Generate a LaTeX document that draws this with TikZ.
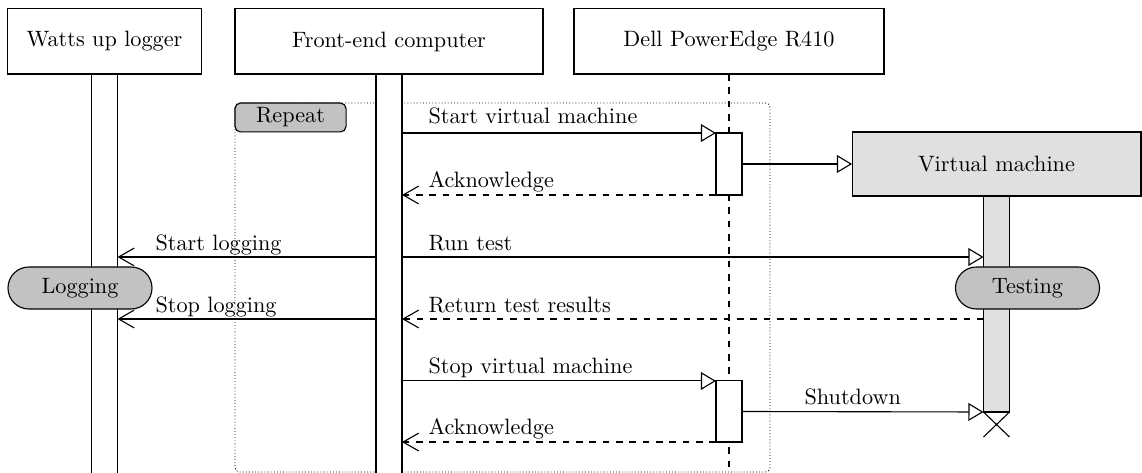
\documentclass[tikz,border=0pt]{standalone}
\usetikzlibrary{arrows.meta}
\definecolor{vmgray}{gray}{0.88}
\definecolor{pillgray}{gray}{0.76}
\begin{document}
\begin{tikzpicture}[x=0.45pt,y=-0.45pt,line width=0.5pt,
    lifehead/.style={draw,inner sep=0pt,outer sep=0pt,minimum height=29.3pt},
    actbar/.style={draw,fill=white,inner sep=0pt,outer sep=0pt,minimum width=11.7pt},
    statepill/.style={draw,fill=pillgray,rounded corners=9.4pt,inner sep=0pt,%
      minimum width=64.8pt,minimum height=18.9pt},
    msglabel/.style={anchor=base west,inner sep=0pt},
    callmsg/.style={-{Triangle[open,length=6.8pt,width=8pt]}},
    logmsg/.style={-{Straight Barb[length=7pt,width=8pt]}},
    retmsg/.style={dashed,-{Straight Barb[length=7pt,width=8pt]}}]
  \useasboundingbox (0,0) rectangle (1142,473) ;
  % repeat frame
  \draw[line width=0.4pt,densely dotted,rounded corners=2pt] (235,103) rectangle (770,472) ;
  \node[draw,fill=pillgray,rounded corners=2.5pt,inner sep=0pt,outer sep=0pt,%
    minimum width=50pt,minimum height=13pt] (repeat) at (290.5,117.5) {Repeat} ;
  % lifelines
  \node[lifehead,minimum width=86.9pt] (watts) at (104.5,41.5) {Watts up logger} ;
  \node[lifehead,minimum width=138.6pt] (front) at (389,41.5) {Front-end computer} ;
  \node[lifehead,minimum width=139.5pt] (dell) at (729,41.5) {Dell PowerEdge R410} ;
  \coordinate (dellend) at (729,480) ;
  \draw[dashed] (dell.south) -- (dellend) ;
  \node[actbar,minimum height=182.7pt,anchor=north] (wattsbar) at (watts.south) {} ;
  \node[actbar,minimum height=182.7pt,anchor=north] (frontbar) at (front.south) {} ;
  \node[actbar,minimum height=27.9pt] (act1) at (729,164) {} ;
  \node[actbar,minimum height=27.5pt] (act2) at (729,411.5) {} ;
  \node[lifehead,fill=vmgray,minimum width=130pt,minimum height=28.8pt] %
    (vm) at (996.5,164) {Virtual machine} ;
  \node[actbar,fill=vmgray,minimum height=97.2pt,anchor=north] (vmbar) at (vm.south) {} ;
  % messages
  \coordinate (runy) at (0,257) ;
  \coordinate (stopy) at (0,319) ;
  \draw[callmsg] (frontbar.east |- act1.north) -- (act1.north west) ;
  \draw[retmsg] (act1.south west) -- (frontbar.east |- act1.south) ;
  \draw[callmsg] (act1.east) -- (vm.west) ;
  \draw[logmsg] (frontbar.west |- runy) -- (wattsbar.east |- runy) ;
  \draw[callmsg] (frontbar.east |- runy) -- (vmbar.west |- runy) ;
  \draw[logmsg] (frontbar.west |- stopy) -- (wattsbar.east |- stopy) ;
  \draw[retmsg] (vmbar.west |- stopy) -- (frontbar.east |- stopy) ;
  \draw[callmsg] (frontbar.east |- act2.north) -- (act2.north west) ;
  \draw[callmsg] (act2.east) -- (vmbar.south west) ;
  \draw[retmsg] (act2.south west) -- (frontbar.east |- act2.south) ;
  \draw (vmbar.south west) -- ++(26,25) (vmbar.south east) -- ++(-26,25) ;
  % states
  \node[statepill] (logging) at (80,288) {Logging} ;
  \node[statepill] (testing) at (1027.5,288) {Testing} ;
  % labels
  \node[msglabel] (lstartvm) at (428,124) {Start virtual machine} ;
  \node[msglabel] (lack1) at (428,188) {Acknowledge} ;
  \node[msglabel] (lstartlog) at (155,251) {Start logging} ;
  \node[msglabel] (lrun) at (428,251) {Run test} ;
  \node[msglabel] (lstoplog) at (155,313) {Stop logging} ;
  \node[msglabel] (lreturn) at (428,313) {Return test results} ;
  \node[msglabel] (lstopvm) at (428,374) {Stop virtual machine} ;
  \node[msglabel] (lack2) at (428,435) {Acknowledge} ;
  \node[msglabel] (lshut) at (804,405) {Shutdown} ;
\end{tikzpicture}
\end{document}
